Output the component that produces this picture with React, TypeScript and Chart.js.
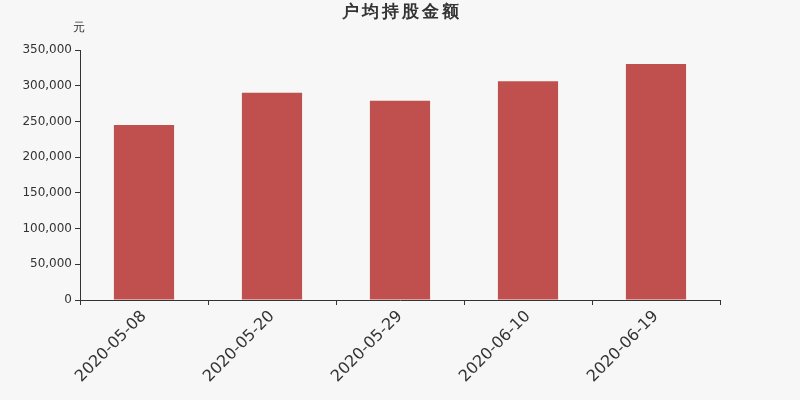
import { useEffect, useRef } from "react";
import { Chart, registerables } from "chart.js";

Chart.register(...registerables);

const dates = ["2020-05-08", "2020-05-20", "2020-05-29", "2020-06-10", "2020-06-19"];
const avgHolding = [245000, 290300, 279000, 306100, 330400];
const yTicks = [0, 50000, 100000, 150000, 200000, 250000, 300000, 350000];

const FONT = "'DejaVu Sans', sans-serif";

const headerText = {
  id: "headerText",
  afterDraw(chart: Chart) {
    const { ctx, chartArea } = chart;
    ctx.save();
    ctx.fillStyle = "#333";
    ctx.textAlign = "center";
    ctx.textBaseline = "middle";
    ctx.font = `bold 17px ${FONT}`;
    (ctx as any).letterSpacing = "3px";
    ctx.fillText("户均持股金额", chart.width / 2 + 1.5, 13);
    (ctx as any).letterSpacing = "0px";
    ctx.font = `12px ${FONT}`;
    ctx.fillText("元", chartArea.left - 1, 28);
    ctx.restore();
  },
};

export default function App() {
  const ref = useRef<HTMLCanvasElement | null>(null);

  useEffect(() => {
    if (!ref.current) return;
    const chart = new Chart(ref.current, {
      type: "bar",
      data: {
        labels: dates,
        datasets: [{ label: "户均持股金额", data: avgHolding, backgroundColor: "#c0504d" }],
      },
      options: {
        animation: false,
        responsive: false,
        devicePixelRatio: 1,
        layout: { padding: { top: 50, right: 80, bottom: 0, left: 0 } },
        plugins: { legend: { display: false }, tooltip: { enabled: false } },
        datasets: { bar: { categoryPercentage: 1, barPercentage: 0.47 } },
        scales: {
          x: {
            afterFit: (s: any) => { s.height = 100; },
            grid: { display: true, offset: true, drawOnChartArea: false, drawTicks: true, tickLength: 5, color: "#333" },
            border: { display: true, color: "#333" },
            ticks: { color: "#333", font: { family: FONT, size: 16 }, minRotation: 45, maxRotation: 45, padding: 2 },
          },
          y: {
            min: 0,
            max: 350000,
            afterFit: (s: any) => { s.width = 80; },
            afterBuildTicks: (s: any) => { s.ticks = yTicks.map((v) => ({ value: v })); },
            grid: { display: true, drawOnChartArea: false, drawTicks: true, tickLength: 5, color: "#333" },
            border: { display: true, color: "#333" },
            ticks: {
              color: "#333",
              font: { family: FONT, size: 12 },
              padding: 3,
              callback: (v: any) => Number(v).toLocaleString("en-US"),
            },
          },
        },
      },
      plugins: [headerText],
    });
    return () => chart.destroy();
  }, []);

  return (
    <div style={{ position: "fixed", left: 0, top: 0, width: 800, height: 400, background: "#f7f7f7" }}>
      <canvas ref={ref} width={800} height={400} />
    </div>
  );
}
